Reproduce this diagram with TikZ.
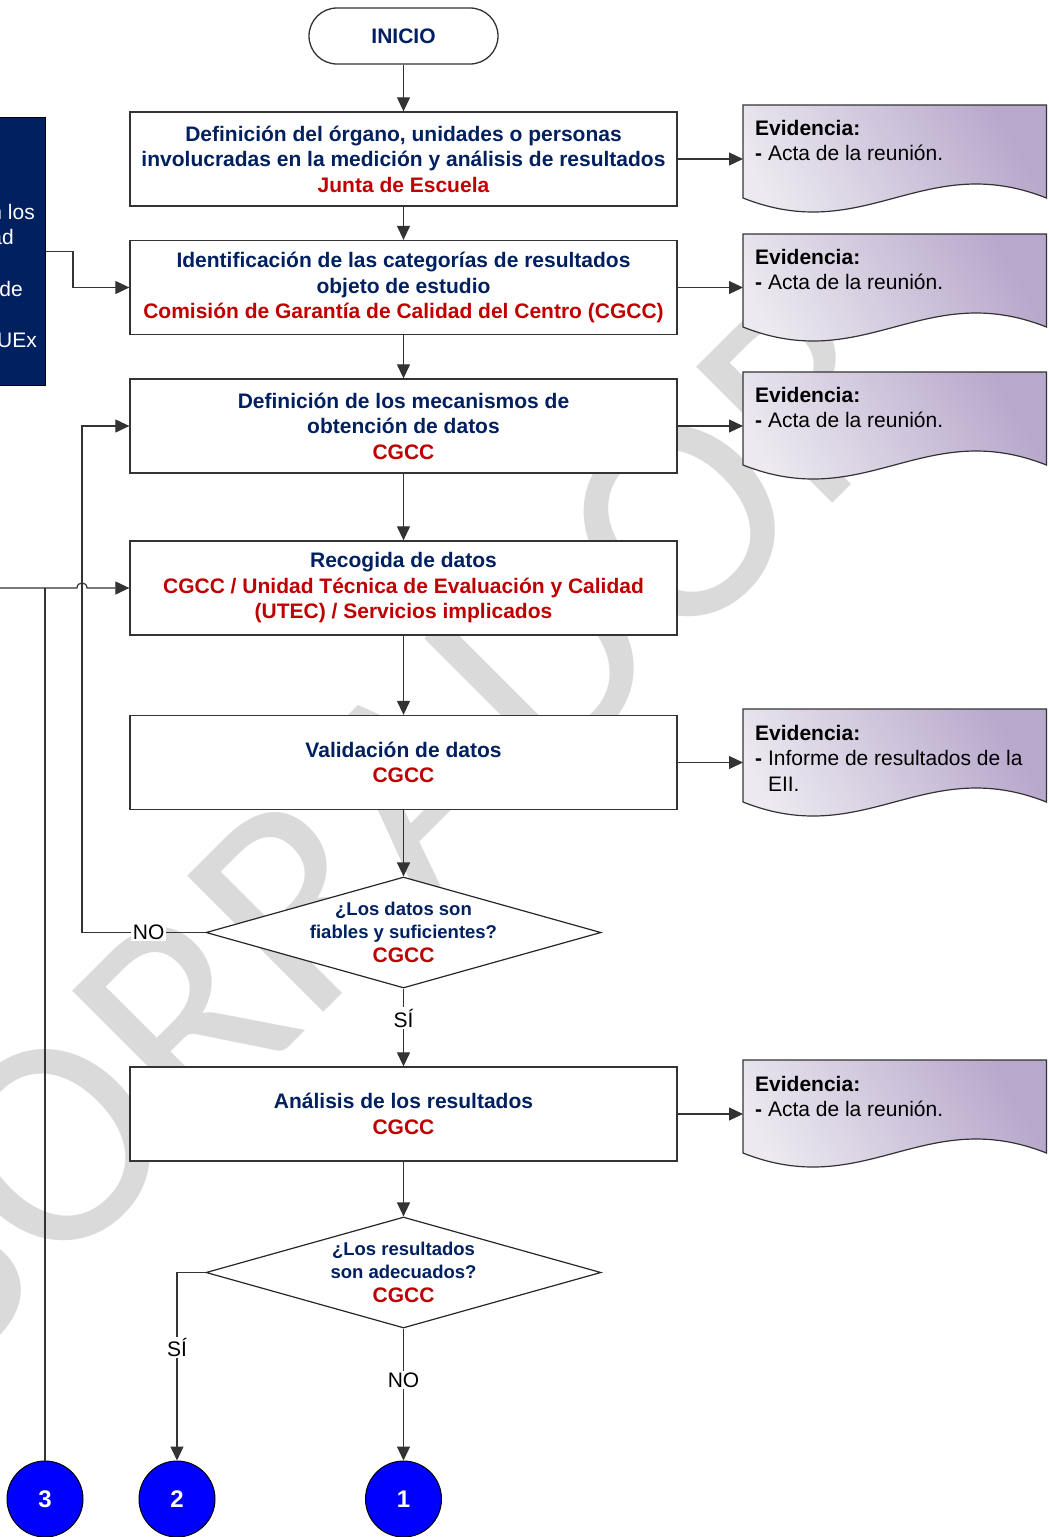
\documentclass[tikz,border=0pt]{standalone}
\usepackage{fontspec}
\setmainfont{Liberation Sans}
\newfontfamily\wmfont{Carlito}
\usetikzlibrary{shapes.geometric,arrows.meta,backgrounds,calc}
\definecolor{navy}{RGB}{0,32,96}
\definecolor{dred}{RGB}{192,0,0}
\definecolor{wmgray}{RGB}{218,218,218}
\definecolor{docA}{RGB}{236,234,240}
\definecolor{docB}{RGB}{184,168,204}
\definecolor{cblue}{RGB}{0,0,255}
\definecolor{lboxc}{RGB}{0,32,96}
\tikzset{
  proc/.style={draw=black!80, line width=1.3pt, fill=white, minimum width=547pt, minimum height=94pt, align=center, inner sep=0pt, font=\fontsize{21}{25.5}\selectfont\bfseries, text=navy},
  term/.style={draw=black!80, line width=1.3pt, fill=white, rounded corners=28pt, minimum width=189pt, minimum height=56pt, font=\fontsize{21}{25}\selectfont\bfseries, text=navy},
  decis/.style={diamond, draw=black!85, line width=1.2pt, fill=white, minimum width=395pt, minimum height=111pt, inner sep=0pt},
  dtext/.style={align=center, inner sep=0pt, text=navy, font=\fontsize{18.5}{23}\selectfont\bfseries},
  conn/.style={draw=black!80, line width=1.2pt},
  arr/.style={conn, -{Triangle[length=14pt,width=13pt]}},
  lab/.style={fill=white, inner sep=1.5pt, font=\fontsize{21}{25}\selectfont, text=black},
  docframe/.style={minimum width=303pt, minimum height=93pt, anchor=north west, inner sep=0pt},
  doctext/.style={anchor=north west, align=left, inner sep=0pt, font=\fontsize{21}{25.5}\selectfont, text=black},
  docshade/.style={top color=docB, bottom color=docA, shading angle=-60, draw=black!80, line width=1.2pt},
  conector/.style={circle, draw=black, line width=1pt, fill=cblue, minimum size=76pt, inner sep=0pt, text=white, font=\fontsize{24}{24}\selectfont\bfseries},
  lbtext/.style={anchor=base east, inner sep=0pt, text=white, font=\fontsize{21}{25}\selectfont},
  watermark/.style={rotate=45, inner sep=0pt, text=wmgray, font=\wmfont\fontsize{300}{300}\selectfont},
}
\newcommand{\docshape}[1]{%
  \shadedraw[docshade] (#1.north west) -- (#1.north east) -- ($(#1.north east)+(0,93)$)
    .. controls ($(#1.north west)+(181,44.5)$) and ($(#1.north west)+(122,141.5)$) .. ($(#1.north west)+(0,93)$) -- cycle;}
\newcommand{\red}[1]{\textcolor{dred}{#1}}
\begin{document}
\begin{tikzpicture}[x=1pt,y=-1pt]
\useasboundingbox (0,0) rectangle (1049,1537);

% left dark box
\node[fill=lboxc, draw=black, line width=1pt, minimum width=300pt, minimum height=268pt, anchor=north east] (lb) at (46,117) {};
\node[lbtext] (lb1) at (35,219.5) {n los};
\node[lbtext] (lb2) at (14,244.5) {ad};
\node[lbtext] (lb3) at (23,296.5) {de};
\node[lbtext] (lb4) at (37,347.5) {UEx};

% main column
\node[term] (ini) at (403.5,36) {INICIO};
\node[proc] (b1) at (403.5,159) {Definición del órgano, unidades o personas\\involucradas en la medición y análisis de resultados\\\red{Junta de Escuela}};
\node[proc] (b2) at (403.5,287.5) {Identificación de las categorías de resultados\\objeto de estudio\\\red{Comisión de Garantía de Calidad del Centro (CGCC)}};
\node[proc] (b3) at (403.5,426) {Definición de los mecanismos de\\obtención de datos\\\red{CGCC}};
\node[proc] (b4) at (403.5,588) {Recogida de datos\\\red{CGCC / Unidad Técnica de Evaluación y Calidad}\\\red{(UTEC) / Servicios implicados}};
\node[proc] (b5) at (403.5,762.5) {Validación de datos\\\red{CGCC}};
\node[decis] (d1) at (403.5,932.5) {};
\node[dtext] (d1t) at (403.5,932) {¿Los datos son\\fiables y suficientes?\\[1pt]{\fontsize{21}{23}\selectfont\color{dred}CGCC}};
\node[proc] (b6) at (403.5,1114) {Análisis de los resultados\\\red{CGCC}};
\node[decis] (d2) at (403.5,1272.5) {};
\node[dtext] (d2t) at (403.5,1272) {¿Los resultados\\son adecuados?\\[1pt]{\fontsize{21}{23}\selectfont\color{dred}CGCC}};

% connectors
\node[conector] (c3) at (45,1499) {3};
\node[conector] (c2) at (177,1499) {2};
\node[conector] (c1) at (403.5,1499) {1};

% evidence documents
\node[docframe] (e1) at (743,105) {};
\node[docframe] (e2) at (743,234) {};
\node[docframe] (e3) at (743,372) {};
\node[docframe] (e4) at (743,709) {};
\node[docframe] (e5) at (743,1060) {};
\begin{scope}[on background layer]
  \node[watermark] (wm) at (367,833) {BORRADOR};
  \docshape{e1}\docshape{e2}\docshape{e3}\docshape{e4}\docshape{e5}
\end{scope}
\node[doctext] (e1t) at ($(e1.north west)+(12,15)$) {\textbf{Evidencia:}\\\textbf{-} Acta de la reunión.};
\node[doctext] (e2t) at ($(e2.north west)+(12,15)$) {\textbf{Evidencia:}\\\textbf{-} Acta de la reunión.};
\node[doctext] (e3t) at ($(e3.north west)+(12,15)$) {\textbf{Evidencia:}\\\textbf{-} Acta de la reunión.};
\node[doctext] (e4t) at ($(e4.north west)+(12,16)$) {\textbf{Evidencia:}\\\textbf{-} Informe de resultados de la\\\hphantom{\textbf{-} }EII.};
\node[doctext] (e5t) at ($(e5.north west)+(12,16)$) {\textbf{Evidencia:}\\\textbf{-} Acta de la reunión.};

% helper coordinates
\coordinate (lx) at (82,0);
\coordinate (lin) at (0,588);

% flow arrows
\draw[arr] (ini) -- (b1);
\draw[arr] (b1) -- (b2);
\draw[arr] (b2) -- (b3);
\draw[arr] (b3) -- (b4);
\draw[arr] (b4) -- (b5);
\draw[arr] (b5) -- (d1.north);
\draw[arr] (d1.south) -- node[lab, pos=0.38] (si1) {SÍ} (b6);
\draw[arr] (b6) -- (d2.north);
\draw[arr] (d2.south) -- node[lab, pos=0.39] (no2) {NO} (c1.north);
\draw[arr] (d2.west) -| node[lab, pos=0.7] (si2) {SÍ} (c2.north);
\draw[arr] (d1.west) -- node[lab, pos=0.46] (no1) {NO} (d1.west -| lx) |- (b3.west);
\draw[arr] (lb.east) -- ++(27,0) |- (b2.west);
\draw[conn] (c3.north) -- (c3.north |- b4.west);
\draw[arr] (lin) -- ($(lx |- b4.west)+(-5,0)$) .. controls ($(lx |- b4.west)+(-5,-6.7)$) and ($(lx |- b4.west)+(5,-6.7)$) .. ($(lx |- b4.west)+(5,0)$) -- (b4.west);

% evidence arrows
\draw[arr] (b1.east) -- (b1.east -| e1.west);
\draw[arr] (b2.east) -- (b2.east -| e2.west);
\draw[arr] (b3.east) -- (b3.east -| e3.west);
\draw[arr] (b5.east) -- (b5.east -| e4.west);
\draw[arr] (b6.east) -- (b6.east -| e5.west);
\end{tikzpicture}
\end{document}
